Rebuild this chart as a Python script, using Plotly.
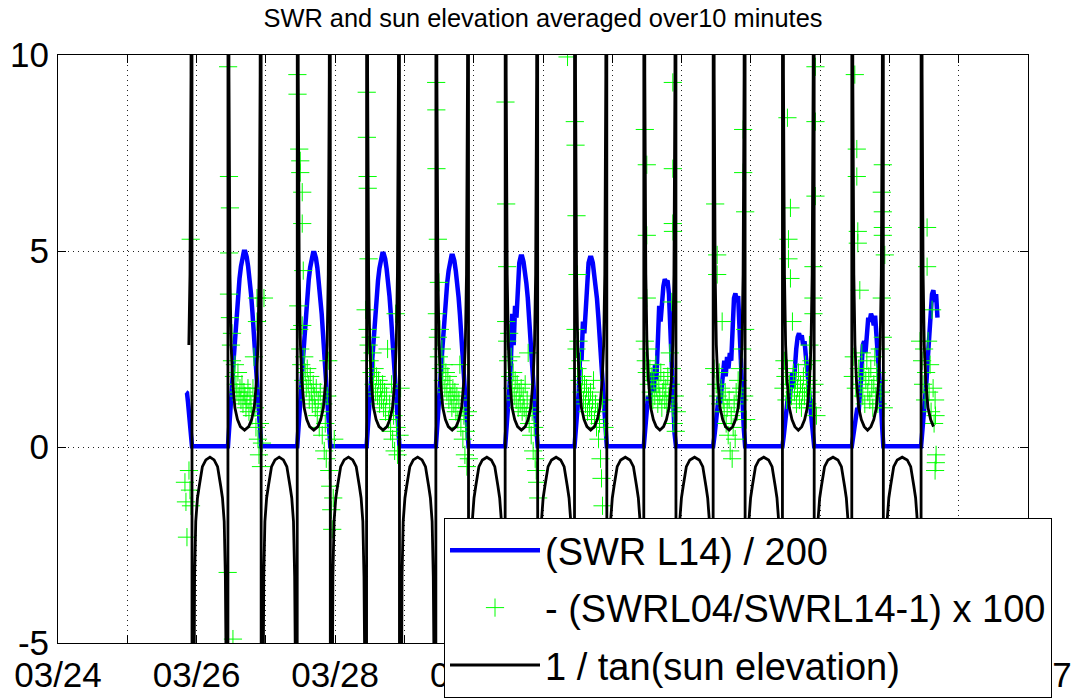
import numpy as np
import pandas as pd
import plotly.graph_objects as go

ORIGIN = pd.Timestamp("2014-03-24 00:00")

# Sun events, in days after 03/24 00:00 (UTC)
sunrise_day = [1.452, 2.453, 3.453, 4.454, 5.454, 6.454, 7.455, 8.455, 9.456, 10.456, 11.457, 12.457]
sunset_day = [1.934, 2.932, 3.930, 4.928, 5.925, 6.923, 7.921, 8.919, 9.917, 10.914, 11.912, 12.910]
cot_start = 1.875
record_end = 12.672

# 1/tan(sun elevation): hours from the nearest sunrise/sunset and the value there
cot_night_h = [0.05, 0.15, 0.30, 0.55, 0.90, 1.30, 1.90, 2.50, 3.60, 4.80]
cot_night = [-76.9, -26.4, -13.0, -6.5, -3.3, -1.9, -1.3, -1.0, -0.5, -0.33]
cot_midnight = -0.26
cot_day_h = [0.05, 0.19, 0.35, 0.70, 1.10, 1.60, 2.40, 3.30, 4.30]
cot_day = [88.8, 20.9, 9.5, 4.4, 2.6, 1.7, 1.0, 0.7, 0.52]
cot_noon = 0.43

# SWR L14 / 200 : evening of 03/25, then 24 samples spread over each daylight period
swr_first_t = [1.847, 1.862, 1.876, 1.891, 1.905, 1.920, 1.934]
swr_first = [1.40, 1.38, 1.15, 0.85, 0.45, 0.15, 0.02]
swr_days = [
    [0.02, 0.47, 1.04, 1.66, 2.27, 2.87, 3.42, 3.90, 4.29, 4.60, 4.85, 4.98, 4.98, 4.85, 4.60, 4.29, 3.90, 3.42, 2.87, 2.27, 1.66, 1.04, 0.47, 0.02],
    [0.02, 0.46, 1.03, 1.65, 2.26, 2.85, 3.40, 3.88, 4.27, 4.58, 4.82, 4.95, 4.95, 4.82, 4.57, 4.26, 3.88, 3.40, 2.85, 2.25, 1.64, 1.03, 0.46, 0.02],
    [0.02, 0.46, 1.02, 1.64, 2.25, 2.84, 3.39, 3.86, 4.25, 4.56, 4.80, 4.93, 4.93, 4.80, 4.55, 4.25, 3.86, 3.38, 2.84, 2.24, 1.63, 1.02, 0.46, 0.02],
    [0.02, 0.45, 1.01, 1.62, 2.22, 2.80, 3.20, 3.50, 4.20, 4.50, 4.76, 4.88, 4.88, 4.75, 4.50, 4.20, 3.82, 3.35, 2.80, 2.22, 1.60, 1.00, 0.45, 0.02],
    [0.02, 0.45, 1.00, 1.50, 2.10, 3.40, 2.60, 3.60, 3.30, 4.40, 4.70, 4.86, 4.86, 4.72, 4.48, 4.18, 3.80, 3.33, 2.78, 2.20, 1.60, 1.00, 0.45, 0.02],
    [0.02, 0.40, 0.90, 1.40, 2.40, 2.20, 3.20, 2.90, 3.50, 4.50, 4.70, 4.83, 4.83, 4.70, 4.45, 4.15, 3.78, 3.30, 2.75, 2.18, 1.58, 0.98, 0.44, 0.02],
    [0.02, 0.40, 0.90, 1.30, 1.10, 1.60, 1.90, 1.40, 2.10, 1.70, 2.40, 3.60, 3.20, 3.90, 4.10, 4.28, 4.20, 4.25, 3.90, 3.00, 1.80, 0.90, 0.35, 0.02],
    [0.02, 0.30, 0.70, 1.00, 1.30, 1.10, 1.60, 1.90, 2.20, 1.80, 2.30, 2.00, 2.40, 2.20, 3.30, 3.80, 3.92, 3.70, 3.85, 2.90, 2.00, 1.20, 0.50, 0.02],
    [0.02, 0.30, 0.60, 0.90, 1.30, 1.10, 1.60, 1.90, 1.50, 2.10, 2.50, 2.80, 2.90, 2.75, 2.85, 2.60, 2.70, 2.30, 2.00, 1.60, 1.10, 0.70, 0.30, 0.02],
    [0.02, 0.30, 0.50, 0.80, 1.00, 0.90, 1.30, 1.90, 2.60, 2.70, 2.40, 2.90, 3.30, 3.20, 3.40, 3.30, 3.10, 3.35, 2.90, 2.50, 2.00, 1.30, 0.60, 0.02],
    [0.02, 0.40, 0.80, 1.20, 1.70, 2.30, 3.00, 3.50, 3.90, 4.00, 3.70, 3.90, 3.30],
]

# -(SWRL04/SWRL14-1) x 100 : day index (counted from 03/26), hours after that day's sunrise, value
green_day = (
    [0] * 49 + [1] * 45 + [2] * 39 + [3] * 38 + [4] * 36 + [5] * 39
    + [6] * 42 + [7] * 36 + [8] * 41 + [9] * 40 + [10] * 20
)
green_h = [
    # 03/26
    -14.9, -14.55, -14.2, -13.5, -13.16, -12.8, -12.9,
    0.05, 0.35, 0.69, 0.4, -0.1, 1.73, 0.35, 0.69, 1.04, 1.39, 1.39, 2.08, 2.42, 2.77, 3.12,
    3.46, 3.81, 4.16, 4.5, 4.85, 5.2, 5.54, 5.89, 6.24, 6.58, 6.93, 7.27, 7.62, 7.97, 8.31,
    8.66, 9.01, 9.35, 9.7, 10.05, 10.05, 10.39, 10.74, 11.08, 11.43, 11.78, 12.47,
    # 03/27
    0.05, 0.1, 0.69, 1.04, 1.04, 1.73, 1.73, 2.08, 0.35, 0.69, 1.04, 1.39, 1.73, 2.08, 2.42,
    2.77, 3.12, 3.46, 3.81, 4.16, 4.5, 4.85, 5.2, 5.54, 5.89, 6.24, 6.58, 6.93, 7.27, 7.62,
    7.97, 8.31, 8.66, 9.01, 9.35, 9.7, 10.05, 10.39, 10.74, 11.08, 11.43, 11.78, 12.12, 12.47, 12.82,
    # 03/28
    0.05, 0.1, 0.35, 0.4, 0.69, -0.35, 0.35, 0.69, 1.04, 1.39, 1.73, 2.08, 2.42, 2.77, 3.12,
    3.46, 3.81, 4.16, 4.5, 4.85, 5.2, 5.54, 5.89, 6.24, 6.58, 6.93, 7.27, 7.62, 7.97, 8.31,
    8.66, 9.01, 9.35, 9.7, 10.05, 10.39, 10.74, 11.43, 11.78,
    # 03/29
    0.1, 0.15, 0.2, 0.69, 1.04, 0.35, 0.69, 1.04, 1.39, 1.73, 2.08, 2.42, 2.77, 3.12, 3.46,
    3.81, 4.16, 4.5, 4.85, 5.2, 5.54, 5.89, 6.24, 6.58, 6.93, 7.27, 7.62, 7.97, 8.31, 8.66,
    9.01, 9.35, 9.7, 10.05, 10.39, 10.74, 11.08, 11.43,
    # 03/30
    0.1, 0.35, 0.69, 0.35, 0.69, 1.04, 1.39, 1.73, 2.08, 2.42, 2.77, 3.12, 3.46, 3.81, 4.16,
    4.5, 4.85, 5.2, 5.54, 5.89, 6.24, 6.58, 6.93, 7.27, 7.62, 7.97, 8.31, 8.66, 9.01, 9.35,
    9.7, 10.05, 10.39, 10.74, 11.08, 11.43,
    # 03/31
    -2.42, 0.1, 0.35, 0.69, 1.04, 0.35, 0.69, 1.04, 1.39, 1.73, 2.08, 2.42, 2.77, 3.12, 3.46,
    3.81, 4.16, 4.5, 4.85, 5.2, 5.54, 5.89, 6.24, 6.58, 6.93, 7.27, 7.62, 7.97, 8.31, 8.66,
    9.01, 9.35, 9.7, 10.05, 10.39, 10.74, 11.08, 10.39, 9.7,
    # 04/01
    0.35, 1.04, 1.04, 1.04, 10.05, 10.05, 10.05, 10.1, 9.7,
    0.35, 0.69, 1.04, 1.39, 1.73, 2.08, 2.42, 2.77, 3.12, 3.46, 3.81, 4.16, 4.5, 4.85, 5.2,
    5.54, 5.89, 6.24, 6.58, 6.93, 7.27, 7.62, 7.97, 8.31, 8.66, 9.01, 9.35, 9.7, 10.05, 10.39,
    10.74, 11.08, 11.43,
    # 04/02
    0.69, 1.39, 1.39, 10.39, 10.39, 11.08, 3.12, 11.08,
    0.35, 1.04, 1.73, 2.08, 2.42, 2.77, 3.46, 3.81, 4.16, 4.5, 4.85, 5.2, 5.54, 5.89, 6.24,
    6.58, 6.93, 7.27, 7.62, 7.97, 8.31, 8.66, 9.01, 9.35, 9.7, 10.05, 10.74, 11.43,
    # 04/03
    1.73, 2.77, 2.08, 2.08, 2.77, 3.46, 11.43, 11.43, 11.43, 10.74, 10.74, 10.74,
    0.35, 0.69, 1.04, 1.39, 1.73, 2.42, 3.12, 3.81, 4.16, 4.5, 4.85, 5.2, 5.54, 5.89, 6.24,
    6.58, 6.93, 7.27, 7.62, 7.97, 8.31, 8.66, 9.01, 9.35, 9.7, 10.05, 10.39, 11.08, 11.78,
    # 04/04
    1.04, 1.73, 1.73, 2.08, 2.08, 2.77, 10.74, 10.39, 10.74, 10.74, 10.74, 11.43, 10.39, 10.74,
    0.35, 0.69, 1.39, 2.42, 3.12, 3.46, 3.81, 4.16, 4.5, 4.85, 5.2, 5.54, 5.89, 6.24, 6.58,
    6.93, 7.27, 7.62, 7.97, 8.31, 8.66, 9.01, 9.35, 9.7, 10.05, 11.08,
    # 04/05
    2.08, 2.08, 3.81, -0.35, 0.35, 0.69, 1.04, 1.39, 1.73, 2.42, 2.77, 3.12, 3.46, 4.16, 4.5,
    4.85, 5.2, 5.1, 4.85, 5.0,
]
green_v = [
    # 03/26
    -0.9, -1.4, -2.3, -0.6, -1.1, -1.5, 5.3,
    9.7, 6.9, 6.1, 4.95, -3.2, -4.9, 3.9, 3.3, 2.6, 2.2, 2.9, 1.8, 2.1, 1.6, 1.4,
    1.9, 1.3, 1.5, 1.2, 1.6, 1.1, 1.4, 1.3, 1.0, 1.2, 1.5, 0.9, 1.3, 1.1, 0.8,
    1.5, 2.3, 1.0, 0.5, 3.2, 3.8, 0.2, -0.2, 0.6, -0.5, 0.1, 3.8,
    # 03/27
    9.5, 9.0, 7.6, 7.3, 7.0, 6.5, 5.7, 4.5, 3.6, 3.0, 2.5, 2.1, 3.1, 1.7, 2.3,
    1.9, 1.5, 2.0, 1.6, 1.2, 1.8, 1.4, 1.1, 1.6, 1.3, 1.0, 1.5, 0.8, 1.2, 0.5,
    1.4, 0.9, 0.3, 1.1, -0.1, 0.6, -0.3, 1.3, 2.2, -0.6, -1.0, -1.6, -2.1, -1.3, 0.2,
    # 03/28
    9.05, 7.9, 6.9, 6.6, 4.8, 3.5, 3.0, 2.6, 2.2, 2.8, 1.9, 2.4, 1.6, 2.0, 1.4,
    1.8, 1.3, 1.7, 1.1, 1.5, 1.2, 1.6, 1.0, 1.4, 0.9, 1.3, 2.5, 0.7, 1.1, 0.4,
    1.6, 0.2, 0.8, -0.1, 3.4, 0.5, -0.2, 0.3, 1.5,
    # 03/29
    9.3, 8.6, 7.1, 5.3, 4.2, 3.4, 2.8, 2.3, 3.0, 2.0, 2.5, 1.7, 2.1, 1.5, 1.9,
    1.4, 1.8, 1.2, 1.6, 1.3, 1.0, 1.5, 1.1, 1.4, 0.9, 1.3, 0.7, 1.2, 2.1, 0.5,
    1.0, 0.2, 0.8, -0.2, 0.4, -0.5, 0.9, -0.3,
    # 03/30
    8.8, 6.2, 4.6, 3.2, 2.7, 2.2, 2.9, 1.8, 2.3, 1.5, 1.9, 1.3, 1.7, 1.2, 1.6,
    1.0, 1.4, 1.1, 1.5, 0.9, 1.3, 1.0, 1.6, 0.8, 1.2, 2.4, 0.6, 1.0, 0.3, 0.9,
    -0.1, 0.5, -0.3, -0.6, -0.9, -1.3,
    # 03/31
    9.95, 8.3, 7.7, 5.9, 4.4, 3.0, 2.5, 2.0, 2.7, 1.7, 2.2, 1.4, 1.8, 1.2, 1.6,
    1.1, 1.5, 0.9, 1.3, 1.0, 1.4, 0.8, 1.2, 1.7, 0.7, 1.1, 0.5, 0.9, 0.2, 0.6,
    -0.3, -0.8, -1.5, -2.3, -3.1, -3.9, -4.9, 0.5, 1.2,
    # 04/01
    8.1, 7.2, 5.4, 3.8, 9.3, 7.1, 5.7, 5.5, 3.7,
    2.7, 2.2, 1.9, 2.5, 1.6, 2.0, 1.4, 1.8, 1.2, 1.7, 1.3, 2.1, 1.5, 1.1, 1.6,
    1.3, 1.9, 1.0, 1.4, 1.7, 1.2, 1.5, 1.1, 1.8, 1.3, 2.4, 1.6, 2.0, 1.0, 0.6,
    1.3, 0.4, 0.9,
    # 04/02
    6.2, 4.9, 4.4, 8.1, 7.0, 6.0, 3.2, 3.0,
    2.0, 1.6, 1.3, 1.9, 1.1, 1.5, 1.2, 0.9, 1.4, 0.6, 1.0, 0.3, 1.2, -0.1, 0.8,
    -0.3, 0.5, 1.1, 0.2, 1.4, 0.9, 1.7, 1.2, 2.0, 1.5, 2.5, 1.3, 0.7,
    # 04/03
    8.4, 6.1, 5.3, 4.8, 4.3, 3.2, 9.7, 8.3, 6.4, 4.6, 3.8, 3.4,
    1.5, 2.2, 1.8, 1.2, 2.0, 1.6, 1.3, 1.9, 1.4, 1.7, 1.1, 1.5, 1.9, 1.2, 1.6,
    1.0, 1.4, 1.8, 1.3, 2.1, 1.5, 1.1, 1.7, 2.6, 1.4, 2.2, 1.0, 1.6, 0.8,
    # 04/04
    9.5, 7.6, 6.9, 5.5, 5.2, 4.0, 7.2, 6.5, 6.0, 5.6, 5.4, 4.9, 3.8, 2.8,
    1.8, 2.3, 1.5, 2.0, 1.6, 2.4, 1.3, 1.9, 1.1, 1.7, 2.2, 1.4, 1.8, 1.2, 2.0,
    1.5, 1.0, 1.6, 2.3, 1.3, 1.9, 1.1, 1.7, 2.5, 1.4, 1.0,
    # 04/05
    5.6, 4.6, 3.5, 2.7, 2.2, 1.6, 2.5, 1.2, 1.9, 2.7, 1.4, 2.1, 0.9, 1.5, 0.6,
    1.2, -0.2, -0.4, -0.6, 0.8,
]


def day_offset(days):
    return ORIGIN + pd.to_timedelta(np.asarray(days, dtype=float), unit="D")


# --- 1/tan(sun elevation) series: alternating day and night arcs ---
cot_t, cot_v = [], []
hd = np.array(cot_day_h) / 24.0
hn = np.array(cot_night_h) / 24.0
for k in range(len(sunset_day)):
    r, s = sunrise_day[k], sunset_day[k]
    cot_t += list(r + hd) + [(r + s) / 2] + list(s - hd[::-1])
    cot_v += cot_day + [cot_noon] + cot_day[::-1]
    if k + 1 < len(sunrise_day):
        r2 = sunrise_day[k + 1]
        cot_t += list(s + hn) + [(s + r2) / 2] + list(r2 - hn[::-1])
        cot_v += cot_night + [cot_midnight] + cot_night[::-1]
cot_t = np.array(cot_t)
cot_v = np.array(cot_v)
keep = (cot_t >= cot_start) & (cot_t <= record_end)
cot_t, cot_v = cot_t[keep], cot_v[keep]

# --- SWR series ---
swr_t = list(swr_first_t)
swr_v = list(swr_first)
for k, row in enumerate(swr_days):
    r, s = sunrise_day[k + 1], sunset_day[k + 1]
    frac = np.arange(len(row)) / 23.0
    swr_t += list(r + frac * (s - r))
    swr_v += row

# --- ratio series ---
green_t = [sunrise_day[d + 1] + h / 24.0 for d, h in zip(green_day, green_h)]

FONT = "Liberation Sans, Arial, Helvetica, sans-serif"

fig = go.Figure()
fig.add_trace(go.Scatter(
    x=day_offset(swr_t), y=swr_v, mode="lines",
    line=dict(color="#0000ff", width=4.5),
    name="(SWR L14) / 200", legendgroup="swr",
))
fig.add_trace(go.Scatter(
    x=day_offset(green_t), y=green_v, mode="markers",
    marker=dict(symbol="cross-thin", size=13, color="#00ff00",
                line=dict(color="#00ff00", width=1)),
    name="- (SWRL04/SWRL14-1) x 100", legendgroup="ratio",
))
fig.add_trace(go.Scatter(
    x=day_offset(cot_t), y=cot_v, mode="lines",
    line=dict(color="#000000", width=2.8),
    name="1 / tan(sun elevation)", legendgroup="sun",
))

tick_days = list(range(15))
tick_dates = day_offset(tick_days)
tick_text = [d.strftime("%m/%d") if k % 2 == 0 else "" for k, d in zip(tick_days, tick_dates)]

fig.update_layout(
    width=1084, height=698,
    margin=dict(l=58, r=56, t=55, b=55, autoexpand=False),
    paper_bgcolor="white", plot_bgcolor="white",
    font=dict(family=FONT, color="black"),
    title=dict(text="SWR and sun elevation averaged over10 minutes",
               x=0.5, xref="paper", xanchor="center",
               y=1 - 18 / 698, yanchor="middle",
               font=dict(size=25.4, family=FONT, color="black")),
    showlegend=True,
    legend=dict(x=(444 - 58) / 970, y=(643 - 518) / 588, xanchor="left", yanchor="top",
                bgcolor="white", bordercolor="black", borderwidth=1,
                font=dict(size=38, family=FONT, color="black"),
                itemwidth=90, tracegroupgap=5),
    xaxis=dict(
        type="date", range=[tick_dates[0], tick_dates[-1]],
        tickmode="array", tickvals=tick_dates, ticktext=tick_text,
        ticks="inside", ticklen=8, tickcolor="black",
        showline=True, linecolor="black", linewidth=1, mirror="allticks",
        showgrid=True, gridcolor="#222222", griddash="1px,4px", gridwidth=1,
        tickfont=dict(size=35, family=FONT, color="black"),
        ticklabelstandoff=1, zeroline=False, automargin=False,
    ),
    yaxis=dict(
        range=[-5, 10], tickmode="array", tickvals=[-5, 0, 5, 10],
        ticktext=["-5", "0", "5", "10"],
        ticks="inside", ticklen=8, tickcolor="black",
        showline=True, linecolor="black", linewidth=1, mirror="allticks",
        showgrid=True, gridcolor="#222222", griddash="1px,4px", gridwidth=1,
        tickfont=dict(size=35, family=FONT, color="black"),
        ticklabelstandoff=1, zeroline=False, automargin=False,
    ),
)

fig.write_html("out.html")
